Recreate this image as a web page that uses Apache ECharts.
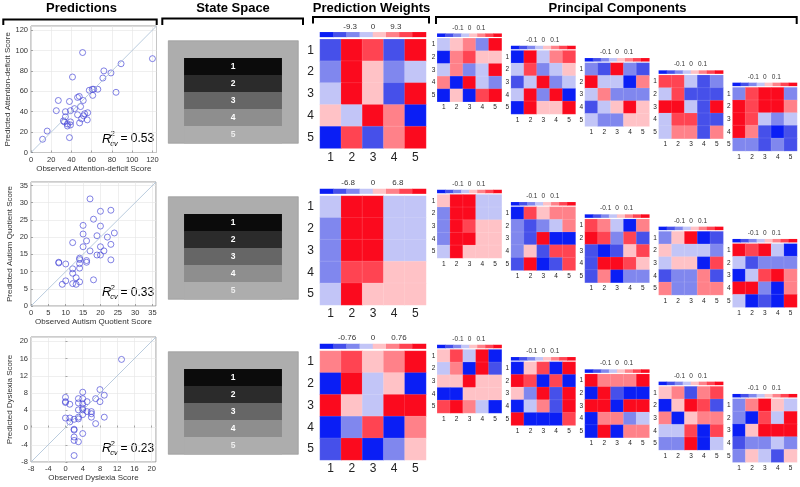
<!DOCTYPE html>
<html><head><meta charset="utf-8">
<script src="https://cdn.jsdelivr.net/npm/echarts@6/dist/echarts.min.js"></script>
<style>html,body{margin:0;padding:0;background:#fff}#c{width:800px;height:487px}</style>
</head><body><div id="c"></div>
<script>
// ---------------- DATA ----------------
const panelTitles = ['Predictions', 'State Space', 'Prediction Weights', 'Principal Components'];

const adPoints = [[11.5,13],[16,21],[25,41],[27,51],[32,31],[33,30],[34,40],[34,35],[36,26],[36,28],[38,50],[38,14.6],[39,41],[39,30],[39,27],[41,74],[43,43],[46,54],[47.7,55],[46,37],[48,29],[49,45],[50,33],[51,98],[51.6,51],[52,36],[53,38],[55.6,32],[56,39],[57.6,61],[60.5,62],[61,56],[62,62],[66,62],[71,73],[72,80],[79,78],[84,59],[89,87],[120,92]];
const aqPoints = [[8,12.5],[8,12.7],[10,12.2],[9,6.3],[10,7.3],[12,18.4],[12,10.8],[12,9.5],[12,6.5],[13,8.2],[13,6.3],[14,13.5],[14,13.9],[14,11],[14,12.3],[14,7],[15,23.4],[15,20.9],[15,17.2],[16,18.9],[16,12.7],[16,13.2],[17,31.1],[17,16],[18,7.6],[18,25.2],[19,20.4],[19,14.8],[20,27.5],[20,23.2],[20,17.2],[20,14.8],[21,16],[22,20],[23,27.8],[23,17.9],[23,13.4],[24,21.2]];
const dysPoints = [[0,7],[0,6],[0,5.8],[0,2.2],[1,5.4],[1,2.2],[1,1.3],[2,1.9],[2,-0.4],[2,-0.6],[2,-2.2],[2,-3],[2,-6.5],[3,6.7],[3,5.7],[3,4.1],[3,2.4],[3,2],[3,-3.3],[4,8.2],[4,6.7],[4,5.5],[4,4.5],[4,4.1],[4,3],[4,-1.4],[5,6],[5,3.7],[6,3.7],[6,3.2],[6,2.4],[7,0.9],[7,6.7],[8,8.8],[8,6],[9,7.5],[9,2.4],[13,15.8]];

const xNames = ['Observed Attention-deficit Score', 'Observed Autism Quotient Score', 'Observed Dyslexia Score'];
const yNames = ['Predicted Attention-deficit Score', 'Predicted Autism Quotient Score', 'Predicted Dyslexia Score'];
const axisMin = [0, 0, -8];
const axisMax = [124, 36, 21];
const axisStep = [20, 5, 4];
const r2Values = ['0.53', '0.33', '0.23'];

const stateLabels = ['1', '2', '3', '4', '5'];
const gridCats = ['1', '2', '3', '4', '5'];

// colour-level index (0 = strongest blue ... 7 = strongest red)
const pwAD  = [[1,7,6,1,7],[2,7,4,2,3],[3,7,4,1,7],[4,3,7,5,0],[0,6,1,5,7]];
const pwAQ  = [[3,7,7,3,3],[2,7,7,3,3],[2,7,7,3,3],[2,6,6,4,4],[3,7,4,4,4]];
const pwDYS = [[5,6,4,5,7],[0,7,3,4,0],[7,4,3,7,7],[0,2,6,0,5],[1,7,0,2,4]];
const pwTicks = [['-9.3','0','9.3'], ['-6.8','0','6.8'], ['-0.76','0','0.76']];
const pwColorMax = [21.6, 14.5, 1.55];

const pcAD = [
  [[3,4,5,2,7],[0,5,6,4,4],[3,5,2,3,7],[5,0,7,3,2],[0,4,0,6,7]],
  [[0,7,3,5,6],[3,6,2,3,4],[1,3,7,2,3],[3,7,2,7,0],[0,7,4,4,7]],
  [[2,1,7,2,1],[7,3,3,0,5],[3,5,2,2,2],[1,3,4,7,4],[3,2,2,4,4]],
  [[6,6,3,1,2],[3,6,1,1,1],[7,7,3,1,7],[3,6,6,1,1],[3,5,5,1,5]],
  [[2,6,7,7,2],[7,6,7,7,5],[7,6,3,2,3],[7,5,1,0,1],[2,2,1,2,1]]
];
const pcAQ = [
  [[4,7,7,3,3],[2,7,7,3,3],[2,7,6,4,4],[2,7,7,4,4],[3,7,4,4,4]],
  [[0,6,4,5,5],[2,1,2,3,5],[2,1,7,0,0],[2,4,1,6,6],[1,7,0,1,6]],
  [[6,5,3,0,5],[7,6,2,6,1],[1,0,1,4,6],[1,7,7,6,4],[1,5,0,2,2]],
  [[2,4,7,0,1],[4,3,3,3,2],[3,4,4,0,6],[1,2,2,5,1],[5,2,2,5,5]],
  [[7,6,7,3,0],[3,1,2,2,2],[0,3,6,7,5],[7,7,2,0,5],[3,0,1,0,7]]
];
const pcDYS = [
  [[4,6,3,7,0],[3,5,0,7,1],[4,4,7,4,4],[0,0,4,4,4],[6,7,5,3,0]],
  [[0,4,6,0,7],[7,6,0,6,0],[4,2,7,1,7],[0,3,5,1,7],[7,0,0,0,6]],
  [[7,5,5,5,7],[0,7,1,0,0],[7,7,0,7,7],[0,5,5,2,3],[0,7,0,5,5]],
  [[4,5,1,5,6],[0,4,7,6,1],[5,0,4,5,5],[3,3,6,0,6],[2,2,7,0,3]],
  [[2,5,7,4,3],[2,0,6,3,7],[0,4,7,7,7],[1,2,2,3,2],[2,4,3,1,4]]
];
const pcTicks = ['-0.1', '0', '0.1'];
const pcColorMax = 0.28;

// ---------------- STYLE ----------------
const FONT = '"Liberation Sans", Arial, Helvetica, sans-serif';
const LEVEL_COLORS = ['#0a1ef5','#4650ea','#8087ee','#c2c5f7','#ffc2c6','#ff8189','#ff4452','#fb0a1e'];
const STATE_COLORS = ['#0b0b0b','#2b2b2b','#666666','#8e8e8e','#adadad'];

const grid = [], xAxis = [], yAxis = [], series = [], graphic = [], heatIdx = [];

function scatterPanel(i, top, w, h, pts) {
  const gi = grid.length;
  grid.push({left: 31, top: top, width: w, height: h, show: true, borderColor: '#707070', borderWidth: 0.7, backgroundColor: '#fff'});
  const xi = xAxis.length;
  xAxis.push({gridIndex: gi, type: 'value', min: axisMin[i], max: axisMax[i], interval: axisStep[i],
    name: xNames[i], nameLocation: 'middle', nameGap: 10,
    nameTextStyle: {fontSize: 8, color: '#333', fontFamily: FONT, verticalAlign: 'top'},
    axisLine: {show: false}, axisTick: {inside: true, length: 2, lineStyle: {color: '#707070', width: 0.6}},
    axisLabel: {fontSize: 7.5, color: '#333', margin: 3, showMaxLabel: false, fontFamily: FONT},
    splitLine: {show: true, lineStyle: {color: '#e4e4e4', width: 0.6}}});
  const yi = yAxis.length;
  yAxis.push({gridIndex: gi, type: 'value', min: axisMin[i], max: axisMax[i], interval: axisStep[i],
    name: yNames[i], nameLocation: 'middle', nameGap: 17,
    nameTextStyle: {fontSize: 8, color: '#333', fontFamily: FONT},
    axisLine: {show: false}, axisTick: {inside: true, length: 2, lineStyle: {color: '#707070', width: 0.6}},
    axisLabel: {fontSize: 7.5, color: '#333', margin: 3, showMaxLabel: false, fontFamily: FONT},
    splitLine: {show: true, lineStyle: {color: '#e4e4e4', width: 0.6}}});
  series.push({type: 'line', xAxisIndex: xi, yAxisIndex: yi, silent: true, symbol: 'none',
    data: [[axisMin[i], axisMin[i]], [axisMax[i], axisMax[i]]], lineStyle: {color: '#a8bfd6', width: 0.8}});
  series.push({type: 'scatter', xAxisIndex: xi, yAxisIndex: yi, silent: true, symbol: 'circle', symbolSize: 6,
    data: pts, itemStyle: {color: 'rgba(0,0,0,0)', borderColor: '#3c3cd4', borderWidth: 0.8}});
  // R^2 label
  const lx = 102, ly = top + h - 13.5;
  graphic.push({type: 'text', x: lx, y: ly, style: {text: 'R', font: 'italic 13px ' + FONT, fill: '#000', verticalAlign: 'middle'}});
  graphic.push({type: 'text', x: lx + 8.8, y: ly - 5, style: {text: '2', font: '7.5px ' + FONT, fill: '#000', verticalAlign: 'middle'}});
  graphic.push({type: 'text', x: lx + 8.3, y: ly + 4.6, style: {text: 'cv', font: 'italic 7.5px ' + FONT, fill: '#000', verticalAlign: 'middle'}});
  graphic.push({type: 'text', x: lx + 18.5, y: ly, style: {text: '= ' + r2Values[i], font: '12px ' + FONT, fill: '#000', verticalAlign: 'middle'}});
}

function statePanel(top) {
  graphic.push({type: 'rect', shape: {x: 168.3, y: top, width: 130, height: 102.6}, style: {fill: '#adadad', stroke: '#8e8e8e', lineWidth: 0.6}});
  const gi = grid.length;
  grid.push({left: 184.3, top: top + 17.5, width: 97.4, height: 85});
  const xi = xAxis.length; xAxis.push({gridIndex: gi, type: 'category', data: ['s'], show: false});
  const yi = yAxis.length; yAxis.push({gridIndex: gi, type: 'category', data: stateLabels, inverse: true, show: false});
  series.push({type: 'heatmap', xAxisIndex: xi, yAxisIndex: yi, silent: true,
    data: stateLabels.map((s, k) => ({value: [0, k, k], itemStyle: {color: STATE_COLORS[k]},
      label: {color: k === 4 ? '#ececec' : '#ffffff'}})),
    label: {show: true, formatter: p => stateLabels[p.value[1]], fontSize: 8.5, fontWeight: 'bold', fontFamily: FONT}});
}

function heatPanel(o) {
  const gi = grid.length;
  grid.push({left: o.left, top: o.top, width: o.w, height: o.h});
  const xi = xAxis.length;
  xAxis.push({gridIndex: gi, type: 'category', data: gridCats, position: 'bottom',
    axisLine: {show: false}, axisTick: {show: false}, splitLine: {show: false},
    axisLabel: {interval: 0, fontSize: o.fs, color: '#222', margin: o.xm, fontFamily: FONT}});
  const yi = yAxis.length;
  yAxis.push({gridIndex: gi, type: 'category', data: gridCats, inverse: true,
    axisLine: {show: false}, axisTick: {show: false}, splitLine: {show: false},
    axisLabel: {interval: 0, fontSize: o.fs, color: '#222', margin: o.ym, fontFamily: FONT}});
  const data = [];
  o.values.forEach((row, r) => row.forEach((v, c) => data.push([c, r, v])));
  heatIdx.push(series.length);
  series.push({type: 'heatmap', xAxisIndex: xi, yAxisIndex: yi, data: data, silent: true,
    itemStyle: {borderColor: 'rgba(255,255,255,0.28)', borderWidth: 0.4}});
  // colour bar
  const cg = grid.length;
  grid.push({left: o.left, top: o.top - o.cbGap, width: o.w, height: o.cbH});
  const cx = xAxis.length;
  xAxis.push({gridIndex: cg, type: 'category', data: LEVEL_COLORS.map((c, k) => 'L' + k), show: false});
  const cy = yAxis.length;
  yAxis.push({gridIndex: cg, type: 'category', data: ['c'], show: false});
  xAxis.push({gridIndex: cg, type: 'value', position: 'top', min: -o.cmax, max: o.cmax,
    axisLine: {show: false}, axisTick: {show: false}, splitLine: {show: false},
    axisLabel: {customValues: o.ticks.map(Number), fontSize: o.cfs, color: '#333', margin: o.cm, fontFamily: FONT,
      formatter: v => { const t = o.ticks.find(s => Math.abs(Number(s) - v) < 1e-9); return t === undefined ? '' : t; }}});
  heatIdx.push(series.length);
  series.push({type: 'heatmap', xAxisIndex: cx, yAxisIndex: cy, silent: true,
    data: LEVEL_COLORS.map((c, k) => [k, 0, k])});
}

// ---------------- BUILD ----------------
const scatterTops = [26, 182, 337];
const scatterW = [125.5, 125, 125];
const scatterH = [126.5, 124, 125];
const scatterPts = [adPoints, aqPoints, dysPoints];
for (let i = 0; i < 3; i++) scatterPanel(i, scatterTops[i], scatterW[i], scatterH[i], scatterPts[i]);

[40.7, 196.7, 351.7].forEach(t => statePanel(t));

const pwTops = [39.3, 196, 351];
const pwVals = [pwAD, pwAQ, pwDYS];
for (let i = 0; i < 3; i++) {
  heatPanel({left: 320, top: pwTops[i], w: 106, h: 109, values: pwVals[i], fs: 12, xm: 3, ym: 6,
    cbGap: 7, cbH: 4.6, cmax: pwColorMax[i], ticks: pwTicks[i], cfs: 8, cm: 1.8});
}

const pcBase = [33.7, 190, 345];
const pcVals = [pcAD, pcAQ, pcDYS];
for (let r = 0; r < 3; r++) {
  for (let k = 0; k < 5; k++) {
    const cbTop = pcBase[r] + 12.3 * k;
    heatPanel({left: 437.3 + 73.85 * k, top: cbTop + 4.6, w: 64.3, h: 63.4, values: pcVals[r][k], fs: 6.5, xm: 2.5, ym: 2,
      cbGap: 4.6, cbH: 3, cmax: pcColorMax, ticks: pcTicks, cfs: 6.5, cm: 2.4});
  }
}

// titles & brackets
const titleX = [81.5, 233, 371.5, 617.5];
const brackets = [[3.3, 156.7, 19.5, 25], [162.3, 303, 18.5, 25], [313, 429, 17, 23.5], [436, 796.7, 17, 24]];
panelTitles.forEach((t, i) => {
  graphic.push({type: 'text', x: titleX[i], y: 8, style: {text: t, font: 'bold 13px ' + FONT, fill: '#000', align: 'center', verticalAlign: 'middle'}});
  const b = brackets[i];
  graphic.push({type: 'polyline', shape: {points: [[b[0], b[3]], [b[0], b[2]], [b[1], b[2]], [b[1], b[3]]]}, style: {stroke: '#000', lineWidth: 2, fill: null}});
});

const chart = echarts.init(document.getElementById('c'), null, {renderer: 'canvas'});
chart.setOption({
  animation: false,
  backgroundColor: '#fff',
  grid: grid, xAxis: xAxis, yAxis: yAxis, series: series,
  graphic: {elements: graphic},
  visualMap: {type: 'piecewise', show: false, seriesIndex: heatIdx, dimension: 2,
    pieces: LEVEL_COLORS.map((c, k) => ({value: k, color: c}))}
});
</script>
</body></html>
